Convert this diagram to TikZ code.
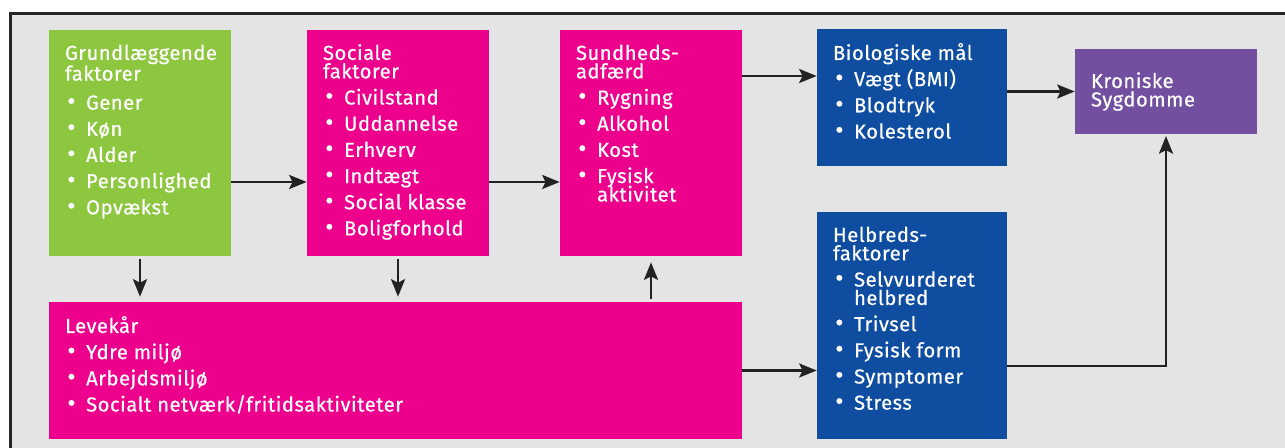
\documentclass[tikz,border=0pt]{standalone}
\usepackage{fontspec}
\setmainfont{Fira Sans}[FakeBold=0.6, LetterSpace=2.5]
\usetikzlibrary{arrows.meta}
\definecolor{grundgreen}{HTML}{8DC63F}
\definecolor{levmagenta}{HTML}{EC008C}
\definecolor{helblue}{HTML}{0E4DA0}
\definecolor{sygpurple}{HTML}{724F9F}
\definecolor{backgray}{HTML}{E4E4E4}
\definecolor{framegray}{HTML}{262626}
\definecolor{arrowgray}{HTML}{222222}
\def\bul{\makebox[12pt][l]{\hspace{1.3pt}\scalebox{1.25}{\textbullet}}}
\def\nl{\\[4.4pt]}
\def\tstrut{\rule{0pt}{9pt}}
\def\boxfont{\fontsize{11.5}{10.5}\selectfont\lineskiplimit=-10pt\relax}
\tikzset{
  box/.style={rectangle, inner sep=0pt},
  txt/.style={anchor=north west, inner sep=0pt, text=white, align=left,
    xshift=0.32cm, yshift=-8pt, font=\boxfont},
  arr/.style={line width=1.3pt, draw=arrowgray,
    -{Stealth[length=10pt,width=8pt,inset=2pt]}},
}

\begin{document}
\begin{tikzpicture}[x=0.02cm, y=-0.02cm]
		%%%%% START %%%%%
		\useasboundingbox (0,0) rectangle (1285,448);
		\fill[white] (0,0) rectangle (1285,448);
		\begin{scope}
		\clip (0,0) rectangle (1285,448);
		\draw[line width=1.5pt, draw=framegray, fill=backgray] (10.8,13.7) rectangle (1320,470);
		\end{scope}
		
		\node[box, fill=grundgreen, minimum width=3.64cm, minimum height=4.52cm] (grund) at (140,143) {};
		\node[box, fill=levmagenta, minimum width=3.64cm, minimum height=4.52cm] (social) at (398,143) {};
		\node[box, fill=levmagenta, minimum width=3.64cm, minimum height=4.52cm] (sundhed) at (651,143) {};
		\node[box, fill=levmagenta, minimum width=13.86cm, minimum height=2.74cm] (levekaar) at (395.5,370.5) {};
		\node[box, fill=helblue, minimum width=3.8cm, minimum height=2.74cm] (bio) at (912,97.5) {};
		\node[box, fill=helblue, minimum width=3.8cm, minimum height=4.54cm] (helbred) at (912,325.5) {};
		\node[box, fill=sygpurple, minimum width=3.64cm, minimum height=1.7cm] (kronisk) at (1166,91.5) {};
		
		\node[txt] (grundtxt) at (grund.north west) {\tstrut Grundlæggende\\[1.3pt]faktorer\\[6pt]
			\bul Gener\nl \bul Køn\nl \bul Alder\nl \bul Personlighed\nl \bul Opvækst};
		\node[txt] (socialtxt) at (social.north west) {\tstrut Sociale\\faktorer\nl
			\bul Civilstand\nl \bul Uddannelse\nl \bul Erhverv\nl \bul Indtægt\nl
			\bul Social klasse\nl \bul Boligforhold};
		\node[txt] (sundhedtxt) at (sundhed.north west) {\tstrut Sundheds-\\adfærd\nl
			\bul Rygning\nl \bul Alkohol\nl \bul Kost\nl \bul Fysisk\\\hspace*{12pt}aktivitet};
		\node[txt] (levekaartxt) at (levekaar.north west) {\tstrut Levekår\nl
			\bul Ydre miljø\nl \bul Arbejdsmiljø\nl \bul Socialt netværk/fritidsaktiviteter};
		\node[txt] (biotxt) at (bio.north west) {\tstrut Biologiske mål\nl
			\bul Vægt (BMI)\nl \bul Blodtryk\nl \bul Kolesterol};
		\node[txt] (helbredtxt) at (helbred.north west) {\tstrut Helbreds-\\faktorer\nl
			\bul Selvvurderet\\\hspace*{12pt}helbred\nl \bul Trivsel\nl \bul Fysisk form\nl
			\bul Symptomer\nl \bul Stress};
		\node[txt, yshift=-5.2pt] (kronisktxt) at (kronisk.north west) {\tstrut Kroniske\\Sygdomme};
		
		\coordinate (rowa) at (0,182);
		\coordinate (rowb) at (0,76);
		\coordinate (rowc) at (0,366);
		
		\draw[arr] (grund.east |- rowa) -- (social.west |- rowa);
		\draw[arr] (social.east |- rowa) -- (sundhed.west |- rowa);
		\draw[arr] (sundhed.east |- rowb) -- (bio.west |- rowb);
		\draw[arr] (bio.east |- kronisk.west) -- (kronisk.west);
		\draw[arr, shorten >=1pt] (helbred.east |- rowc) -| (kronisk.south);
		\draw[arr, shorten <=1.7pt, shorten >=2.8pt] (grund.south) -- (grund.south |- levekaar.north);
		\draw[arr, shorten <=1.7pt, shorten >=2.8pt] (social.south) -- (social.south |- levekaar.north);
		\draw[arr, shorten <=1.7pt, shorten >=3.4pt] (levekaar.north -| sundhed.south) -- (sundhed.south);
		\draw[arr] (levekaar.east) -- (levekaar.east -| helbred.west);
		
		%%%%% END %%%%%
\end{tikzpicture}
\end{document}
